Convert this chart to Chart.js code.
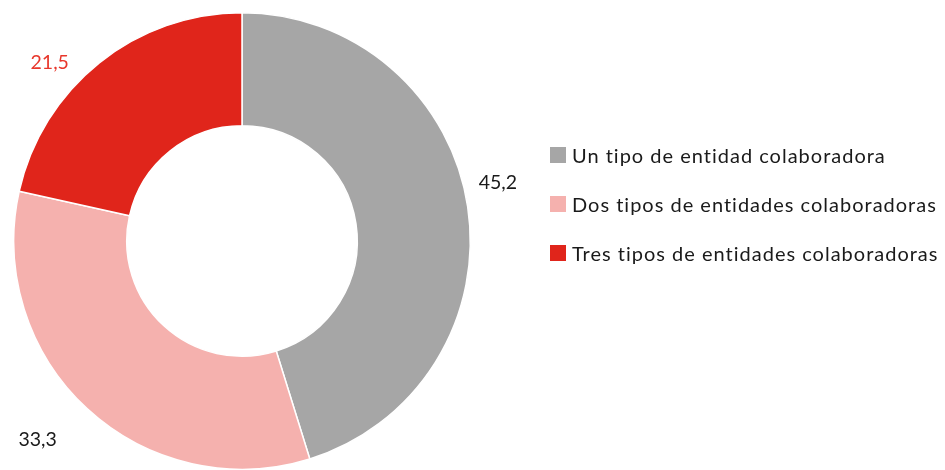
<!DOCTYPE html>
<html>
<head>
<meta charset="utf-8">
<script src="https://cdn.jsdelivr.net/npm/chart.js@4/dist/chart.umd.min.js"></script>
<style>
  html, body { margin: 0; padding: 0; background: #fff; }
  #wrap { position: relative; width: 945px; height: 470px; overflow: hidden; }
  #legend { position: absolute; left: 550px; top: 130px; font-family: Lato, "Open Sans", sans-serif; font-size: 20px; letter-spacing: 1px; color: #1a1a1a; }
  .row { display: flex; align-items: center; height: 49px; white-space: nowrap; }
  .box { width: 16px; height: 16px; margin-right: 6px; }
</style>
</head>
<body>
<div id="wrap">
  <canvas id="graphCanvas" width="945" height="470"></canvas>
  <div id="legend"></div>
</div>
<script>
const labels = ['Un tipo de entidad colaboradora', 'Dos tipos de entidades colaboradoras', 'Tres tipos de entidades colaboradoras'];
const values = [45.2, 33.3, 21.5];
const colors = ['#a6a6a6', '#f5b1ae', '#e0251b'];
const labelColors = ['#1a1a1a', '#1a1a1a', '#e8372c'];
// nudges so labels land where Excel put them
const labelAngleShift = [-4.3, 3.1, -8.4];
const labelDistance = [1.15, 1.25, 1.15];

const legend = document.getElementById('legend');
labels.forEach((l, i) => {
    const row = document.createElement('div');
    row.className = 'row';
    row.innerHTML = '<span class="box" style="background:' + colors[i] + '"></span>' + l;
    legend.appendChild(row);
});

const valueLabels = {
    id: 'valueLabels',
    afterDatasetsDraw(chart) {
        const c = chart.ctx;
        const meta = chart.getDatasetMeta(0);
        c.save();
        c.font = '19.5px Lato, "Open Sans", sans-serif';
        c.textAlign = 'center';
        c.textBaseline = 'middle';
        meta.data.forEach((arc, i) => {
            const p = arc.getProps(['x', 'y', 'startAngle', 'endAngle', 'outerRadius'], true);
            const a = (p.startAngle + p.endAngle) / 2 + labelAngleShift[i] * Math.PI / 180;
            const r = p.outerRadius * labelDistance[i];
            c.fillStyle = labelColors[i];
            c.fillText(values[i].toFixed(1).replace('.', ','), p.x + r * Math.cos(a), p.y + r * Math.sin(a));
        });
        c.restore();
    }
};

new Chart(document.getElementById('graphCanvas'), {
    type: 'doughnut',
    data: {
        labels: labels,
        datasets: [{
            data: values,
            backgroundColor: colors,
            borderColor: '#ffffff',
            borderWidth: 1.5
        }]
    },
    options: {
        responsive: false,
        animation: false,
        cutout: '50.5%',
        layout: {
            padding: { left: 12, right: 473, top: 12, bottom: -2 }
        },
        plugins: {
            legend: { display: false },
            tooltip: { enabled: false }
        }
    },
    plugins: [valueLabels]
});
</script>
</body>
</html>
